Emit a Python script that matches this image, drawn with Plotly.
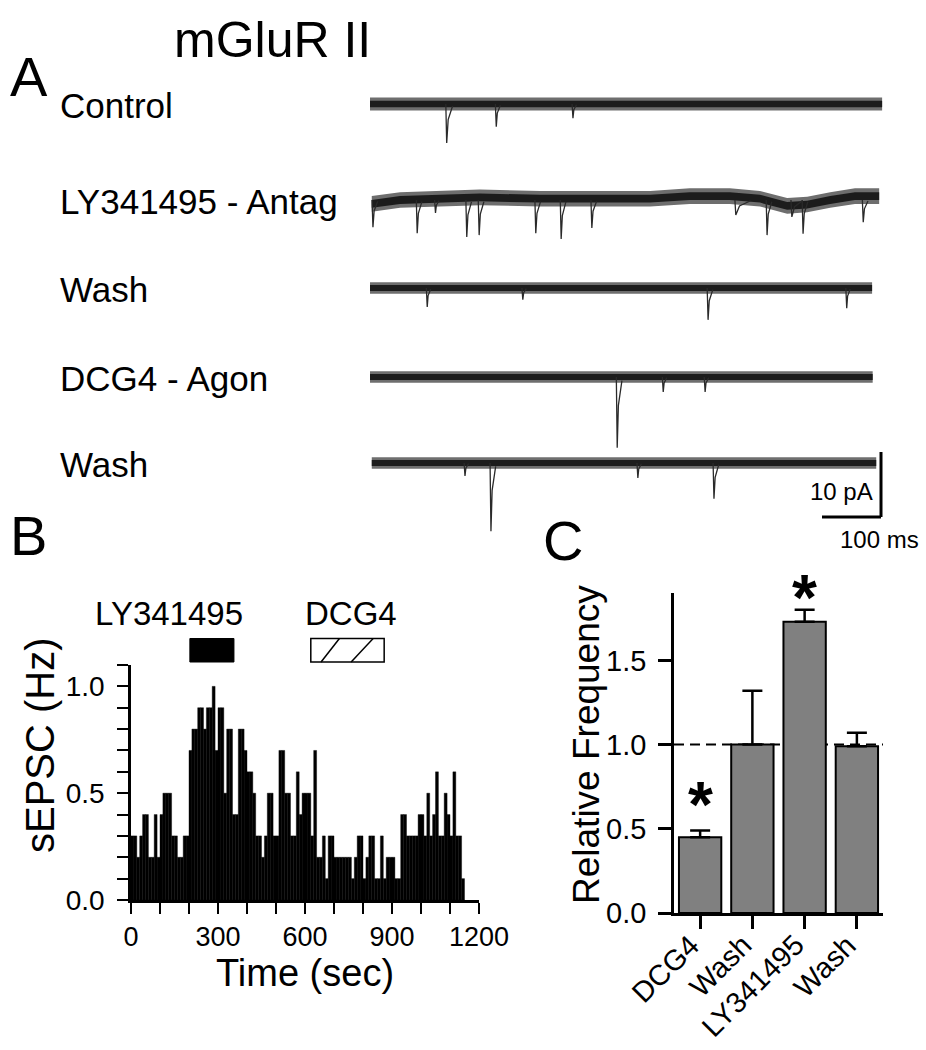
import plotly.graph_objects as go

W, H = 926, 1050
FONT = "Arial, Liberation Sans, sans-serif"

# ---------------- Panel A: example sEPSC recordings ----------------
trace_names = ["Control", "LY341495 - Antag", "Wash", "DCG4 - Agon", "Wash"]
noise_pA = [1.0, 1.2, 0.9, 0.9, 0.9]

# baseline (time ms / pA); only the antagonist trace drifts
base_t = [
    [0, 868],
    [3, 51, 186, 288, 390, 475, 542, 610, 661, 707, 741, 780, 822, 863],
    [0, 851],
    [0, 852],
    [3, 858],
]
base_v = [
    [0, 0],
    [-0.6, 0, 0.4, 0.2, 0.2, 0.2, 0.6, 0.6, 0.2, -0.9, -0.7, 0, 0.6, 0.6],
    [0, 0],
    [0, 0],
    [0, 0],
]

# sEPSC events: onset (ms), peak amplitude (pA), decay (ms)
event_t = [
    [130, 214, 344],
    [5, 80, 111, 164, 185, 281, 324, 376, 620, 673, 715, 734, 836],
    [97, 259, 573, 808],
    [419, 497, 568],
    [161, 205, 454, 583],
]
event_amp = [
    [6.0, 3.5, 2.2],
    [4.2, 5.1, 2.0, 5.7, 5.4, 5.1, 6.0, 4.3, 2.3, 5.4, 2.6, 5.2, 3.4],
    [2.9, 1.8, 4.9, 3.1],
    [10.9, 2.3, 2.3],
    [2.0, 10.5, 2.3, 5.5],
]
event_decay = [
    [10, 7, 6],
    [8, 8, 6, 8, 8, 8, 8, 8, 25, 8, 18, 8, 8],
    [6, 6, 8, 6],
    [8, 6, 6],
    [6, 8, 6, 8],
]
scale_pA = 10
scale_ms = 100

# ---------------- Panel B: sEPSC frequency histogram ----------------
bin_width_s = 10
rate_hz = [
    0.3, 0.3, 0.2, 0.3, 0.4, 0.4, 0.2, 0.2, 0.4, 0.2,
    0.4, 0.5, 0.5, 0.5, 0.3, 0.3, 0.2, 0.2, 0.3, 0.3,
    0.7, 0.8, 0.8, 0.9, 0.9, 0.8, 0.9, 0.9, 1.0, 0.7,
    0.9, 0.9, 0.5, 0.8, 0.8, 0.4, 0.4, 0.8, 0.8, 0.7,
    0.6, 0.6, 0.5, 0.3, 0.3, 0.2, 0.3, 0.5, 0.5, 0.3,
    0.3, 0.7, 0.7, 0.5, 0.5, 0.3, 0.3, 0.6, 0.4, 0.5,
    0.5, 0.5, 0.3, 0.7, 0.2, 0.2, 0.3, 0.1, 0.3, 0.3,
    0.2, 0.2, 0.2, 0.2, 0.2, 0.2, 0.1, 0.2, 0.3, 0.3,
    0.1, 0.2, 0.3, 0.3, 0.1, 0.1, 0.3, 0.1, 0.2, 0.2,
    0.2, 0.1, 0.1, 0.4, 0.4, 0.3, 0.3, 0.3, 0.3, 0.4,
    0.4, 0.3, 0.5, 0.3, 0.4, 0.6, 0.3, 0.3, 0.5, 0.4,
    0.3, 0.6, 0.3, 0.3, 0.1,
]
bin_center_s = [bin_width_s * (i + 0.5) for i in range(len(rate_hz))]
ly_period_s = [203, 355]
dcg4_period_s = [620, 873]

# ---------------- Panel C: relative frequency ----------------
conditions = ["DCG4", "Wash", "LY341495", "Wash"]
rel_freq = [0.45, 1.0, 1.73, 0.99]
rel_sem = [0.04, 0.32, 0.07, 0.08]
significant = [True, False, True, False]


def px(x):
    return x / W


def py(y):
    return 1 - y / H


# panel A geometry (pixels)
A_X0, A_PX_MS = 370, 0.59
A_Y0, A_PX_PA = 104, 6.5
trace_rows_px = [104, 200, 288, 377, 463]
offsets = [-(r - A_Y0) / A_PX_PA for r in trace_rows_px]

fig = go.Figure()

for k in range(len(trace_names)):
    off = offsets[k]
    bt, bv = base_t[k], base_v[k]
    n = noise_pA[k]
    for frac, col in [(1.0, "#6e6e6e"), (0.5, "#1c1c1c")]:
        xs = bt + bt[::-1]
        ys = [off + v + n * frac for v in bv] + [off + v - n * frac for v in bv[::-1]]
        fig.add_trace(go.Scatter(x=xs, y=ys, fill="toself", fillcolor=col,
                                 line=dict(width=0), mode="lines",
                                 hoverinfo="skip", xaxis="x", yaxis="y"))
    sx, sy = [], []
    for t, a, d in zip(event_t[k], event_amp[k], event_decay[k]):
        sx += [t - 1.5, t, t + 0.25 * d, t + d, None]
        sy += [off, off - a, off - 0.4 * a, off - 0.05 * a, None]
    fig.add_trace(go.Scatter(x=sx, y=sy, mode="lines",
                             line=dict(color="#2a2a2a", width=1.3),
                             xaxis="x", yaxis="y"))

# histogram
fig.add_trace(go.Bar(x=bin_center_s, y=rate_hz, width=bin_width_s,
                     marker=dict(color="black", line=dict(color="black", width=0.4)),
                     xaxis="x2", yaxis="y2"))

# bar chart
fig.add_trace(go.Bar(x=list(range(len(conditions))), y=rel_freq, width=0.81,
                     marker=dict(color="#808080", line=dict(color="black", width=2)),
                     error_y=dict(type="data", array=rel_sem, arrayminus=[0] * len(rel_sem),
                                  symmetric=False, color="black", thickness=2.5, width=10),
                     xaxis="x3", yaxis="y3"))

a_xrange = [(360 - A_X0) / A_PX_MS, (W - A_X0) / A_PX_MS]
a_yrange = [-(560 - A_Y0) / A_PX_PA, (A_Y0 - 60) / A_PX_PA]

tick_b = list(range(0, 1201, 100))
tick_b_text = [str(v) if v % 300 == 0 else "" for v in tick_b]
tick_by = [round(0.1 * i, 1) for i in range(12)]
tick_by_text = ["%.1f" % v if i % 5 == 0 else "" for i, v in enumerate(tick_by)]

axis_common = dict(showgrid=False, zeroline=False, showline=True, linecolor="black",
                   linewidth=2.5, ticks="outside", tickcolor="black", automargin=False)

fig.update_layout(
    width=W, height=H, margin=dict(l=0, r=0, t=0, b=0, pad=0, autoexpand=False),
    paper_bgcolor="white", plot_bgcolor="white", showlegend=False,
    font=dict(family=FONT, color="black"),
    xaxis=dict(domain=[px(360), 1], range=a_xrange, visible=False, anchor="y"),
    yaxis=dict(domain=[py(560), py(60)], range=a_yrange, visible=False, anchor="x"),
    xaxis2=dict(domain=[px(131), px(479)], range=[0, 1200], anchor="y2",
                tickvals=tick_b, ticktext=tick_b_text, ticklen=11, tickwidth=2,
                tickfont=dict(size=27), **axis_common),
    yaxis2=dict(domain=[py(900), py(665)], range=[0, 1.1], anchor="x2",
                tickvals=tick_by, ticktext=tick_by_text, ticklen=11, tickwidth=2,
                ticklabelstandoff=7, tickfont=dict(size=28), **axis_common),
    xaxis3=dict(domain=[px(674), px(883)], range=[-0.5, 3.5], anchor="y3",
                tickvals=list(range(len(conditions))), showticklabels=False,
                ticklen=13, tickwidth=2.5, **axis_common),
    yaxis3=dict(domain=[py(913), py(593)], range=[0, 1.9], anchor="x3",
                tickvals=[0, 0.5, 1.0, 1.5], tickformat=".1f", ticklen=13, tickwidth=2.5,
                ticklabelstandoff=6, tickfont=dict(size=29), **axis_common),
    xaxis4=dict(domain=[px(131), px(479)], range=[0, 1200], anchor="y4", visible=False),
    yaxis4=dict(domain=[py(665), py(580)], range=[0, 1], anchor="x4", visible=False),
)

shapes = []
# scale bar
sb_x = (881 - A_X0) / A_PX_MS
sb_y = -(517 - A_Y0) / A_PX_PA
shapes.append(dict(type="line", xref="x", yref="y", x0=sb_x, x1=sb_x,
                   y0=sb_y, y1=sb_y + scale_pA, line=dict(color="black", width=3)))
shapes.append(dict(type="line", xref="x", yref="y", x0=sb_x - scale_ms, x1=sb_x,
                   y0=sb_y, y1=sb_y, line=dict(color="black", width=3)))
# treatment bars
bar_y0, bar_y1 = (665 - 662) / 85, (665 - 638.5) / 85
shapes.append(dict(type="rect", xref="x4", yref="y4", x0=ly_period_s[0], x1=ly_period_s[1],
                   y0=bar_y0, y1=bar_y1, fillcolor="black", line=dict(color="black", width=1)))
shapes.append(dict(type="rect", xref="x4", yref="y4", x0=dcg4_period_s[0], x1=dcg4_period_s[1],
                   y0=bar_y0, y1=bar_y1, line=dict(color="black", width=1.5)))
d0, d1 = dcg4_period_s
for a, b in [(0.14, 0.39), (0.55, 0.85)]:
    shapes.append(dict(type="line", xref="x4", yref="y4", x0=d0 + a * (d1 - d0),
                       x1=d0 + b * (d1 - d0), y0=bar_y0, y1=bar_y1,
                       line=dict(color="black", width=1.5)))
# reference line at 1.0
shapes.append(dict(type="line", xref="x3", yref="y3", x0=-0.5, x1=3.55, y0=1, y1=1,
                   layer="below", line=dict(color="black", width=2, dash="10px,6px")))
fig.update_layout(shapes=shapes)


def label(text, x, y, size, xanchor="center", angle=0, xref="paper", yref="paper", **kw):
    return dict(text=text, x=x, y=y, xref=xref, yref=yref, xanchor=xanchor,
                yanchor=kw.pop("yanchor", "middle"), textangle=angle,
                showarrow=False, font=dict(size=size), **kw)


ann = [label("mGluR II", px(272), py(40), 50)]
for letter, lx, ly_ in [("A", 8, 76), ("B", 8, 535), ("C", 541, 540)]:
    ann.append(label(letter, px(lx), py(ly_), 56, xanchor="left"))
for name, off in zip(trace_names, offsets):
    ann.append(label(name, px(58), off - 0.3, 35, xanchor="left", yref="y"))
ann.append(label("%d pA" % scale_pA, sb_x - 11, -(491 - A_Y0) / A_PX_PA, 24,
                 xanchor="right", xref="x", yref="y"))
ann.append(label("%d ms" % scale_ms, sb_x - 3, -(539 - A_Y0) / A_PX_PA, 24,
                 xref="x", yref="y"))
ann.append(label("LY341495", 131, (665 - 613) / 85, 33, xref="x4", yref="y4"))
ann.append(label("DCG4", 758, (665 - 613) / 85, 33, xref="x4", yref="y4"))
ann.append(label("sEPSC (Hz)", px(40), py(745), 40, angle=-90))
ann.append(label("Time (sec)", px(305), py(973), 38))
ann.append(label("Relative Frequency", px(586), py(745), 37, angle=-90))
# rotated category labels under panel C
for i, name in enumerate(conditions):
    ann.append(label(name, i, py(926), 29, xanchor="right", yanchor="top", angle=-45,
                     xref="x3", xshift=8))
for i, (v, e, s) in enumerate(zip(rel_freq, rel_sem, significant)):
    if s:
        ann.append(label("<b>*</b>", i, v + e, 64, xref="x3", yref="y3",
                         yanchor="bottom", yshift=-13 if i == 0 else -26))
fig.update_layout(annotations=ann)

fig.write_html("out.html", config={"displayModeBar": False},
               post_script="document.body.style.margin='0';")
